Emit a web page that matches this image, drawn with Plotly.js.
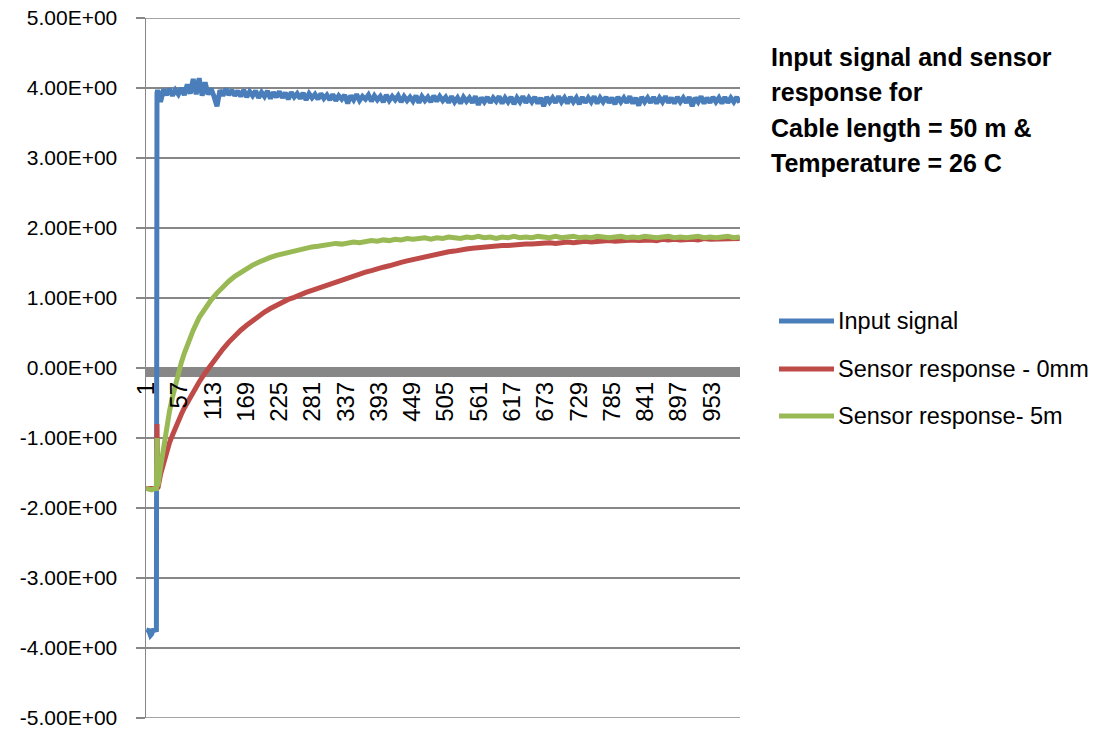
<!DOCTYPE html>
<html><head><meta charset="utf-8">
<script src="https://cdn.plot.ly/plotly-3.0.1.min.js"></script>
<style>html,body{margin:0;padding:0;background:#fff}#chart{width:1098px;height:735px}</style>
</head><body><div id="chart"></div>
<script>
// ---- data ----
const seriesNames = ['Input signal', 'Sensor response - 0mm', 'Sensor response- 5m'];
const numCategories = 1000;
const xTickLabels = ['1','57','113','169','225','281','337','393','449','505','561','617','673','729','785','841','897','953'];
const yTickValues = [-5,-4,-3,-2,-1,0,1,2,3,4,5];
const yTickLabels = ['-5.00E+00','-4.00E+00','-3.00E+00','-2.00E+00','-1.00E+00','0.00E+00','1.00E+00','2.00E+00','3.00E+00','4.00E+00','5.00E+00'];

// Input signal: first samples at listed categories, then one sample every 5 categories from 20 to 1000
const inputEarlyCats = [1,5,8,10,12,15,18,19];
const inputEarlyVals = [-3.74,-3.75,-3.82,-3.80,-3.75,-3.75,-3.74,3.93];
const inputLateVals = [
 3.97,3.80,3.98,3.90,3.99,3.89,3.97,3.91,4.00,3.90,4.05,3.92,4.13,3.91,4.14,3.89,4.08,3.91,3.99,3.88,3.74,3.97,3.89,3.99,3.90,3.97,3.89,
 3.96,3.88,3.97,3.87,3.95,3.89,3.96,3.86,3.94,3.88,3.96,3.85,3.94,3.87,3.95,3.86,3.93,3.84,3.94,3.87,3.92,3.85,3.93,3.83,3.92,3.86,3.91,3.84,3.92,3.85,
 3.90,3.83,3.91,3.82,3.89,3.84,3.90,3.78,3.89,3.83,3.91,3.82,3.88,3.84,3.90,3.81,3.89,3.83,3.88,3.80,3.90,3.82,3.88,3.83,3.89,3.80,3.88,3.82,3.87,3.81,3.89,3.79,3.88,3.82,3.87,3.80,3.89,3.81,3.88,3.82,
 3.87,3.79,3.88,3.80,3.86,3.78,3.87,3.81,3.86,3.79,
 3.88,3.76,3.86,3.80,3.87,3.79,3.86,3.81,3.88,3.78,
 3.86,3.80,3.87,3.77,3.86,3.80,3.88,3.79,3.86,3.80,
 3.87,3.78,3.86,3.74,3.87,3.80,3.86,3.79,3.88,3.80,
 3.86,3.78,3.87,3.80,3.86,3.77,3.87,3.79,3.86,3.80,
 3.88,3.78,3.86,3.80,3.87,3.79,3.86,3.77,3.87,3.80,
 3.86,3.79,3.88,3.78,3.86,3.75,3.87,3.80,3.86,3.79,
 3.87,3.78,3.86,3.80,3.88,3.79,3.86,3.78,3.87,3.80,
 3.86,3.79,3.87,3.74,3.86,3.80,3.88,3.78,3.86,3.79,
 3.87,3.80,3.86,3.78,3.87,3.79,3.86,3.80,3.87,3.79
];
const inputLateStart = 20, inputLateStep = 5;

// Sensor responses: samples at listed early categories, then one every 10 categories from 90 to 1000
const respEarlyCats = [1,5,10,15,18,19,20,21,25,30,35,40,45,50,55,60,65,70,75,80];
const resp0mmEarly = [-1.72,-1.72,-1.73,-1.72,-1.72,-0.80,-1.72,-1.70,-1.52,-1.35,-1.20,-1.07,-0.96,-0.85,-0.75,-0.66,-0.57,-0.49,-0.41,-0.34];
const resp0mmLate = [
 -0.20,-0.07,0.05,0.16,0.27,0.37,0.46,0.54,0.61,0.68,0.74,0.80,0.85,0.90,0.94,0.98,1.01,1.05,1.08,1.11,1.14,1.17,
 1.20,1.23,1.26,1.29,1.31,1.34,1.37,1.39,1.42,1.44,1.46,1.49,1.51,1.53,1.55,1.57,1.59,1.61,1.63,1.64,
 1.66,1.67,1.69,1.70,1.71,1.72,1.73,1.73,1.74,1.75,1.75,1.76,1.76,1.77,1.77,1.78,1.78,1.79,1.78,1.79,
 1.80,1.79,1.80,1.81,1.80,1.81,1.81,1.82,1.81,1.82,1.82,1.83,1.82,1.83,1.83,1.82,1.84,1.83,1.84,1.83,1.84,1.84,1.83,1.85,1.84,1.84,1.85,1.84,1.85,1.85
];
const resp5mEarly = [-1.72,-1.73,-1.74,-1.72,-1.72,-1.00,-1.68,-1.66,-1.42,-1.12,-0.85,-0.62,-0.42,-0.24,-0.06,0.08,0.21,0.33,0.44,0.54];
const resp5mLate = [
 0.72,0.86,0.97,1.07,1.16,1.24,1.31,1.37,1.43,1.47,1.51,1.55,1.58,1.61,1.63,1.66,1.68,1.70,1.71,1.73,1.74,1.75,
 1.76,1.78,1.77,1.79,1.80,1.79,1.81,1.82,1.81,1.83,1.82,1.84,1.83,1.85,1.84,1.85,1.86,1.84,1.86,1.85,
 1.87,1.86,1.85,1.87,1.86,1.88,1.86,1.87,1.85,1.87,1.86,1.88,1.86,1.87,1.86,1.88,1.87,1.86,1.88,1.86,
 1.87,1.88,1.86,1.87,1.86,1.88,1.87,1.86,1.87,1.88,1.86,1.87,1.86,1.88,1.87,1.86,1.87,1.88,1.86,1.87,1.86,1.87,1.88,1.86,1.87,1.86,1.87,1.88,1.86,1.87
];
const respLateStart = 90, respLateStep = 10;

// ---- build traces ----
function lateCats(start, step, n){ const a=[]; for(let i=0;i<n;i++) a.push(start+i*step); return a; }
const inputX = inputEarlyCats.concat(lateCats(inputLateStart, inputLateStep, inputLateVals.length));
const inputY = inputEarlyVals.concat(inputLateVals);
const respX0 = respEarlyCats.concat(lateCats(respLateStart, respLateStep, resp0mmLate.length));
const respX5 = respEarlyCats.concat(lateCats(respLateStart, respLateStep, resp5mLate.length));
const colors = ['#4A7EBB','#BE4B48','#98B954'];
const lw = 5;

const traces = [
  {x: inputX, y: inputY, name: seriesNames[0], mode:'lines', line:{color:colors[0], width:lw}},
  {x: respX0, y: resp0mmEarly.concat(resp0mmLate), name: seriesNames[1], mode:'lines', line:{color:colors[1], width:lw}},
  {x: respX5, y: resp5mEarly.concat(resp5mLate), name: seriesNames[2], mode:'lines', line:{color:colors[2], width:lw}}
];

const xTickVals = xTickLabels.map(Number);
const L = 146, R = 740, T = 18, B = 718;
const W = R - L, H = B - T;
const px = v => (v - L) / W;
const py = v => (B - v) / H;

const font = 'Liberation Sans, Arial, sans-serif';
const titleLines = ['Input signal and sensor','response for','Cable length = 50 m &','Temperature = 26 C'];
const titleY = [57, 92, 128, 163];
const legendY = [321, 369, 416];

const annotations = [];
titleLines.forEach((t,i)=>annotations.push({text:'<b>'+t+'</b>', xref:'paper', yref:'paper', x:px(769), y:py(titleY[i]), xanchor:'left', yanchor:'middle', showarrow:false, font:{family:font, size:25, color:'#000'}}));
seriesNames.forEach((n,i)=>annotations.push({text:n, xref:'paper', yref:'paper', x:px(836), y:py(legendY[i]), xanchor:'left', yanchor:'middle', showarrow:false, font:{family:font, size:23.5, color:'#000'}}));

const shapes = [
  {type:'rect', xref:'paper', x0:0, x1:1, yref:'y', ysizemode:'pixel', yanchor:0, y0:0, y1:-9, fillcolor:'#878787', line:{width:0}, layer:'between'},
  {type:'line', xref:'paper', x0:0, x1:1, yref:'y', y0:5, y1:5, line:{color:'#878787', width:1.5}, layer:'between'},
  {type:'line', xref:'paper', x0:0, x1:1, yref:'y', y0:-5, y1:-5, line:{color:'#878787', width:1.5}, layer:'between'}
];
legendY.forEach((yy,i)=>shapes.push({type:'line', xref:'paper', yref:'paper', x0:px(779), x1:px(834), y0:py(yy), y1:py(yy), line:{color:colors[i], width:5}}));

const layout = {
  width:1098, height:735,
  margin:{l:L, r:1098-R, t:T, b:735-B, pad:0},
  paper_bgcolor:'#ffffff', plot_bgcolor:'#ffffff',
  showlegend:false,
  xaxis:{range:[0.5, numCategories+0.5], anchor:'free', position:0.5, tickmode:'array', tickvals:xTickVals, ticktext:xTickLabels,
    tickangle:-90, showgrid:false, zeroline:false, showline:false, ticks:'', ticklabelstandoff:8,
    tickfont:{family:font, size:24, color:'#000'}},
  yaxis:{range:[-5,5], tickmode:'array', tickvals:yTickValues, ticktext:yTickLabels, showgrid:true, gridcolor:'#878787', gridwidth:1.5,
    zeroline:false, showline:true, linecolor:'#878787', linewidth:1.5, ticks:'outside', ticklen:9, tickwidth:1.5, tickcolor:'#878787',
    ticklabelstandoff:14, tickfont:{family:font, size:21, color:'#000'}},
  shapes: shapes,
  annotations: annotations
};
Plotly.newPlot('chart', traces, layout, {displayModeBar:false, staticPlot:true});
</script></body></html>
